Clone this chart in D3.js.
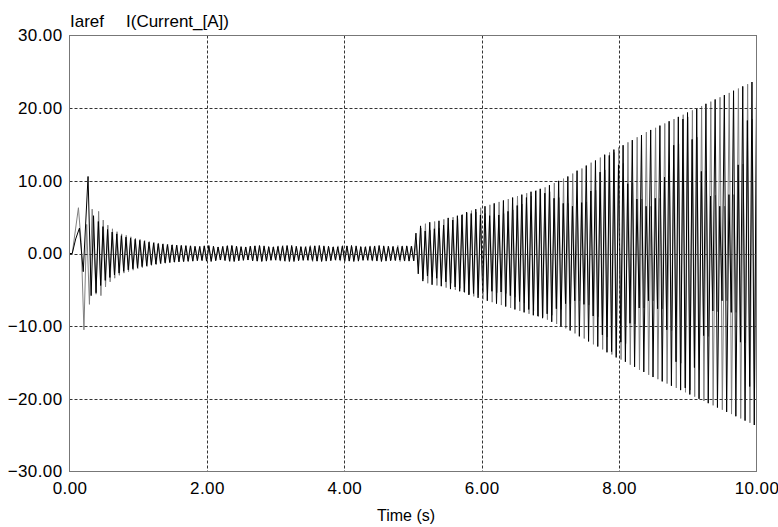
<!DOCTYPE html>
<html>
<head>
<meta charset="utf-8">
<script src="https://cdn.jsdelivr.net/npm/d3@7"></script>
<style>
  html, body { margin: 0; padding: 0; background: #fff; }
  svg { display: block; }
  text { font-family: "Liberation Sans", Arial, sans-serif; fill: #000; }
</style>
</head>
<body>
<svg id="chart" width="778" height="527"></svg>
<script>
// ---------------- DATA ----------------
const seriesNames = ["Iaref", "I(Current_[A])"];
const xTicks = [0, 2, 4, 6, 8, 10];
const yTicks = [-30, -20, -10, 0, 10, 20, 30];
const xTitle = "Time (s)";

// start-up transient (time s, current A)
const transTimeA = [0, 0.04, 0.09, 0.145, 0.2, 0.27, 0.315, 0.35, 0.3865];
const transValA  = [0, 0, 2.0, 3.5, -2.5, 10.6, -5.8, 5.2, -5.4];
const transTimeB = [0, 0.04, 0.09, 0.13, 0.17, 0.21, 0.25, 0.29, 0.33, 0.3865];
const transValB  = [0, 0, 3.5, 6.3, 1.5, -10.5, 4.0, -7.0, 6.1, -5.6];

// oscillation after the transient: one peak/trough per cycle
const cycleStart = 0.42;     // s
const cyclePeriod = 0.067;   // s
const phaseShiftB = 0.004;   // s

// per-cycle amplitude (A), black trace
const ampA = [
  4.4,3.7,3.3,2.95,2.7,2.45,2.25,2.1,1.95,1.8,1.68,1.55,1.45,1.35,1.28,1.22,1.17,1.13,1.1,1.07,1.05,
  1.0,0.95,1.05,1.1,1.0,0.9,0.95,1.05,1.1,1.0,0.95,0.9,1.0,1.05,1.1,1.05,0.95,0.9,0.95,1.0,
  1.1,1.1,1.0,0.95,0.9,0.95,1.05,1.1,1.05,1.0,0.9,0.9,1.0,1.05,1.1,1.05,0.95,0.9,0.95,1.0,
  1.1,1.05,1.0,0.95,0.9,1.0,1.05,
  1.0,2.8,3.8,
  3.1,4.3,3.4,4.5,3.9,4.9,4.6,5.2,5.3,5.7,5.5,6.1,5.3,6.5,5.2,6.9,
  5.3,7.3,5.8,7.7,6.6,8.1,7.7,8.5,8.6,8.9,8.3,9.4,7.6,10.0,6.9,10.6,
  6.5,11.4,7.0,12.1,8.6,12.8,11.2,13.6,13.5,14.3,12.2,14.9,9.6,15.6,7.5,16.3,
  6.5,17.0,7.6,17.6,10.5,18.2,14.9,18.8,18.5,19.4,15.7,20.0,11.3,20.6,7.9,21.2,
  6.5,21.8,8.1,22.4,12.2,23.0,18.3,23.6,23.1
];
// per-cycle amplitude (A), grey trace
const ampB = [
  5.8,4.6,3.9,3.4,3.0,2.7,2.5,2.3,2.1,1.95,1.8,1.65,1.55,1.45,1.35,1.28,1.22,1.16,1.12,1.08,1.05,
  0.9,1.0,1.05,0.95,0.85,0.9,1.0,1.1,1.05,0.95,0.85,0.9,1.0,1.05,1.0,0.9,0.85,0.95,1.05,1.1,
  1.0,0.9,0.85,0.9,1.0,1.1,1.05,0.95,0.9,0.85,0.95,1.05,1.1,1.0,0.9,0.85,0.9,1.0,1.05,1.05,
  0.95,0.85,0.9,1.0,1.1,1.05,0.95,1.0,
  1.8,3.5,
  4.1,3.2,4.4,3.5,4.7,4.1,5.0,4.8,5.4,5.6,5.9,5.7,6.3,5.5,6.7,5.4,
  7.1,5.5,7.5,6.0,7.9,6.8,8.3,7.9,8.7,8.8,9.1,8.5,9.7,7.7,10.3,6.9,
  11.0,6.5,11.7,7.1,12.5,8.7,13.2,11.5,13.9,13.9,14.6,12.4,15.3,9.7,16.0,7.5,
  16.7,6.5,17.3,7.6,17.9,10.6,18.5,15.1,19.1,18.8,19.7,16.0,20.3,11.4,20.9,8.0,
  21.5,6.5,22.1,8.1,22.7,12.3,23.3,18.5,23.8
];

// ---------------- LAYOUT ----------------
const svg = d3.select("#chart");
const pLeft = 69.5, pRight = 756.5, pTop = 35.5, pBottom = 471.5;
const x = d3.scaleLinear().domain([0, 10]).range([pLeft, pRight]);
const y = d3.scaleLinear().domain([-30, 30]).range([pBottom, pTop]);

function buildSeries(tt, tv, amps, shift) {
  const pts = tt.map((t, i) => [t, tv[i]]);
  amps.forEach((a, i) => {
    const t0 = cycleStart + shift + i * cyclePeriod;
    pts.push([t0, a]);
    pts.push([t0 + cyclePeriod / 2, -a]);
  });
  return pts;
}
const dataA = buildSeries(transTimeA, transValA, ampA, 0);
const dataB = buildSeries(transTimeB, transValB, ampB, phaseShiftB);

svg.append("defs").append("clipPath").attr("id", "clip")
  .append("rect").attr("x", pLeft).attr("y", pTop)
  .attr("width", pRight - pLeft).attr("height", pBottom - pTop);

const line = d3.line().x(d => x(d[0])).y(d => y(d[1]));

const plot = svg.append("g").attr("clip-path", "url(#clip)");
plot.append("path").datum(dataB)
  .attr("fill", "none").attr("stroke", "#808080").attr("stroke-width", 1)
  .attr("d", line);
plot.append("path").datum(dataA)
  .attr("fill", "none").attr("stroke", "#000").attr("stroke-width", 1)
  .attr("d", line);

// grid (drawn over the traces, as in the reference)
const grid = svg.append("g");
grid.selectAll(".gx").data(xTicks.filter(v => v > 0 && v < 10)).join("line")
  .attr("x1", d => Math.round(x(d)) + 0.5).attr("x2", d => Math.round(x(d)) + 0.5)
  .attr("y1", pTop).attr("y2", pBottom)
  .attr("stroke", "#333").attr("stroke-dasharray", "3,2");
grid.selectAll(".gy").data(yTicks.filter(v => v > -30 && v < 30)).join("line")
  .attr("y1", d => Math.round(y(d)) + 0.5).attr("y2", d => Math.round(y(d)) + 0.5)
  .attr("x1", pLeft).attr("x2", pRight)
  .attr("stroke", "#333").attr("stroke-dasharray", "3,2");

// frame
svg.append("rect").attr("x", pLeft).attr("y", pTop)
  .attr("width", pRight - pLeft).attr("height", pBottom - pTop)
  .attr("fill", "none").attr("stroke", "#777").attr("stroke-width", 1);

// axes via d3 axis generators (only labels shown)
const xAxis = d3.axisBottom(x).tickValues(xTicks).tickFormat(d3.format(".2f")).tickSize(0).tickPadding(10);
const gx = svg.append("g").attr("transform", `translate(0,${pBottom})`).call(xAxis);
gx.select(".domain").remove();
gx.selectAll("text").attr("font-size", 17).attr("font-family", "Liberation Sans, Arial, sans-serif")
  .attr("letter-spacing", "0.4px").attr("fill", "#000");

const yAxis = d3.axisLeft(y).tickValues(yTicks).tickFormat(d3.format(".2f")).tickSize(0).tickPadding(7);
const gy = svg.append("g").attr("transform", `translate(${pLeft},0)`).call(yAxis);
gy.select(".domain").remove();
gy.selectAll("text").attr("font-size", 17).attr("font-family", "Liberation Sans, Arial, sans-serif")
  .attr("letter-spacing", "0.4px").attr("fill", "#000");

// titles
svg.append("text").attr("x", 406).attr("y", 521)
  .attr("text-anchor", "middle").attr("font-size", 16).text(xTitle);
svg.append("text").attr("x", 70).attr("y", 27).attr("font-size", 17).text(seriesNames[0]);
svg.append("text").attr("x", 126).attr("y", 27).attr("font-size", 17).text(seriesNames[1]);
</script>
</body>
</html>
